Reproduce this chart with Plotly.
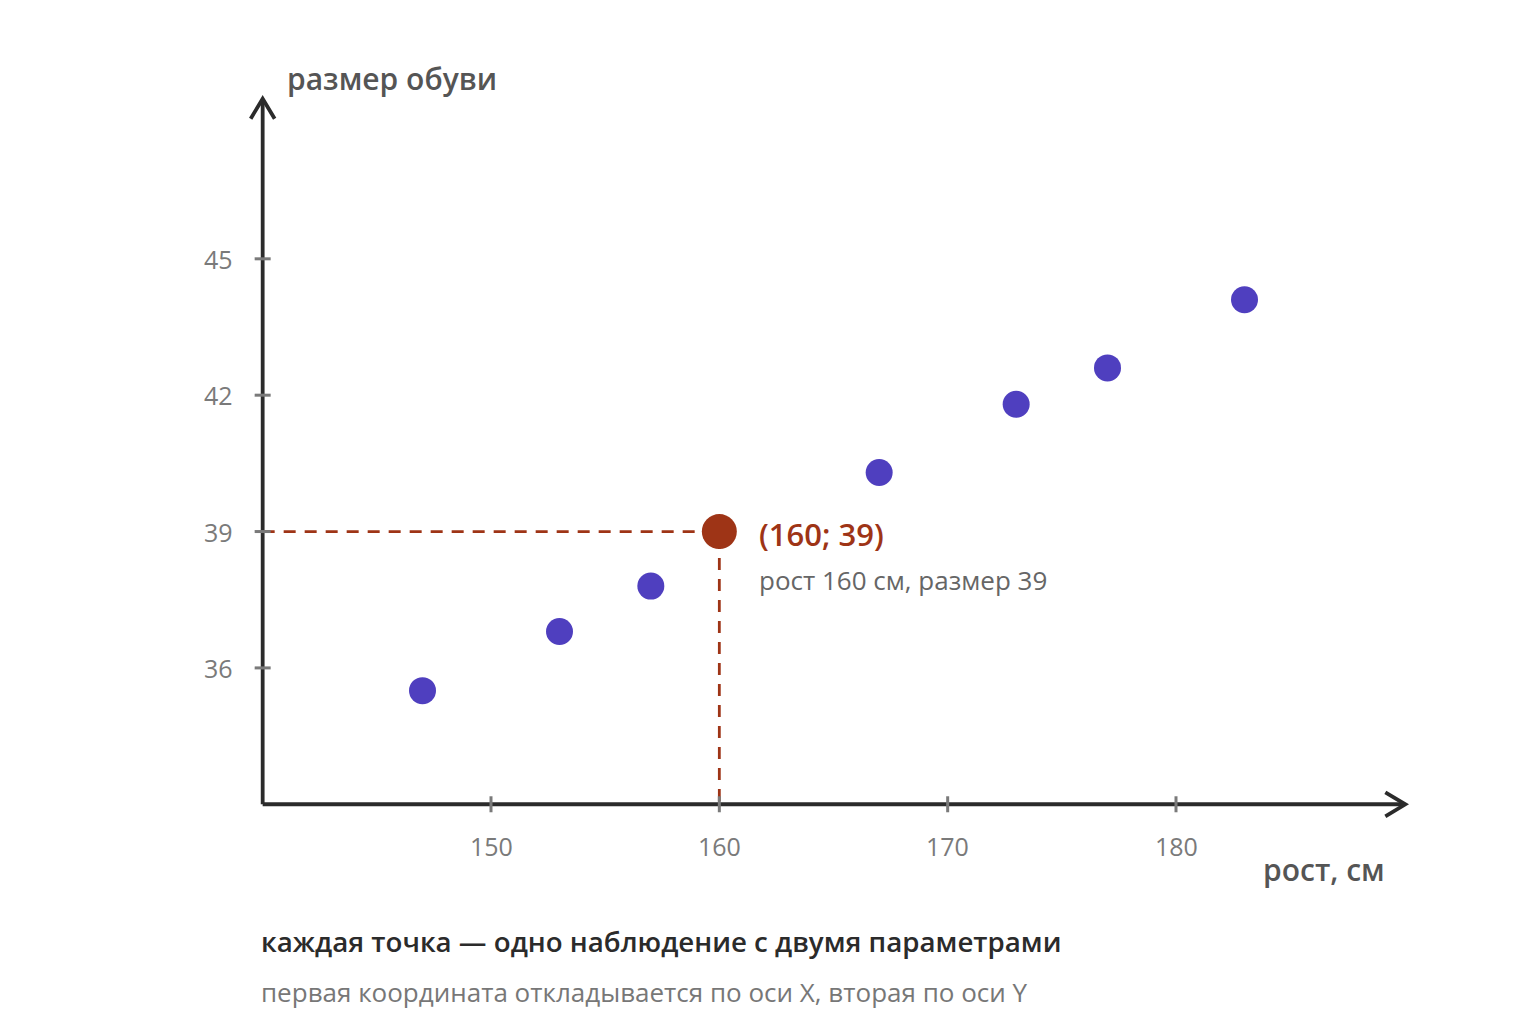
import plotly.graph_objects as go

# --- data ---
heights = [147, 153, 157, 167, 173, 177, 183]
shoe_sizes = [35.5, 36.8, 37.8, 40.3, 41.8, 42.6, 44.1]
hl_height = 160
hl_size = 39

x_ticks = [150, 160, 170, 180]
y_ticks = [36, 39, 42, 45]
x_axis = [140, 190]      # where the drawn x axis starts / ends (arrow tip)
y_axis = [33, 48.5]      # where the drawn y axis starts / ends (arrow tip)
x_range = [138, 192]     # a bit of room so arrow heads are not clipped
y_range = [32.5, 49]

font = "Open Sans"
axis_color = "#2b2b2b"
tick_color = "#7a7a7a"
dot_color = "#4f3fbf"
hl_color = "#9e3416"

fig = go.Figure()

fig.add_trace(
    go.Scatter(
        x=heights,
        y=shoe_sizes,
        mode="markers",
        marker=dict(size=27, color=dot_color),
        hoverinfo="skip",
    )
)

# guide lines to the highlighted point
fig.add_trace(
    go.Scatter(
        x=[x_axis[0], hl_height, hl_height],
        y=[hl_size, hl_size, y_axis[0]],
        mode="lines",
        line=dict(color=hl_color, width=2.8, dash="12px,9px"),
        hoverinfo="skip",
    )
)
fig.add_trace(
    go.Scatter(
        x=[hl_height],
        y=[hl_size],
        mode="markers",
        marker=dict(size=35, color=hl_color),
        hoverinfo="skip",
    )
)

shapes = []
# axes
shapes.append(dict(type="line", xref="x", yref="y", x0=x_axis[0], x1=x_axis[1],
                   y0=y_axis[0], y1=y_axis[0], line=dict(color=axis_color, width=3.8)))
shapes.append(dict(type="line", xref="x", yref="y", x0=x_axis[0], x1=x_axis[0],
                   y0=y_axis[0], y1=y_axis[1], line=dict(color=axis_color, width=3.8)))
# arrow heads
shapes.append(dict(type="path", xref="x", yref="y", xsizemode="pixel", ysizemode="pixel",
                   xanchor=x_axis[1], yanchor=y_axis[0],
                   path="M -19 12 L 1 0 L -19 -12", line=dict(color=axis_color, width=3.8)))
shapes.append(dict(type="path", xref="x", yref="y", xsizemode="pixel", ysizemode="pixel",
                   xanchor=x_axis[0], yanchor=y_axis[1],
                   path="M -12 -19 L 0 1 L 12 -19", line=dict(color=axis_color, width=3.8)))
# ticks crossing the axes
for t in x_ticks:
    shapes.append(dict(type="line", xref="x", yref="y", ysizemode="pixel", yanchor=y_axis[0],
                       x0=t, x1=t, y0=-8, y1=8, line=dict(color=tick_color, width=3)))
for t in y_ticks:
    shapes.append(dict(type="line", xref="x", yref="y", xsizemode="pixel", xanchor=x_axis[0],
                       y0=t, y1=t, x0=-8, x1=8, line=dict(color=tick_color, width=3)))

annotations = []
for t in x_ticks:
    annotations.append(dict(x=t, y=y_axis[0], xref="x", yref="y", text=str(t), showarrow=False,
                            yshift=-42, font=dict(family=font, size=25, color=tick_color)))
for t in y_ticks:
    annotations.append(dict(x=x_axis[0], y=t, xref="x", yref="y", text=str(t), showarrow=False,
                            xanchor="right", xshift=-28,
                            font=dict(family=font, size=25, color=tick_color)))

annotations += [
    dict(x=x_axis[0], y=y_axis[1], xref="x", yref="y", text="размер обуви", showarrow=False,
         xanchor="left", xshift=22, yshift=21,
         font=dict(family=font, size=30, color="#555555", weight=600)),
    dict(x=x_axis[1], y=y_axis[0], xref="x", yref="y", text="рост, см", showarrow=False,
         xanchor="right", xshift=-17, yshift=-65,
         font=dict(family=font, size=30, color="#555555", weight=600)),
    dict(x=hl_height, y=hl_size, xref="x", yref="y", text=f"({hl_height}; {hl_size})",
         showarrow=False, xanchor="left", xshift=38, yshift=-2,
         font=dict(family=font, size=31, color=hl_color, weight=600)),
    dict(x=hl_height, y=hl_size, xref="x", yref="y",
         text=f"рост {hl_height} см, размер {hl_size}",
         showarrow=False, xanchor="left", xshift=38, yshift=-48,
         font=dict(family=font, size=26, color="#666666")),
    dict(x=x_axis[0], y=y_axis[0], xref="x", yref="y",
         text="каждая точка — одно наблюдение с двумя параметрами",
         showarrow=False, xanchor="left", xshift=-4, yshift=-137,
         font=dict(family=font, size=27.7, color="#2b2b2b", weight=600)),
    dict(x=x_axis[0], y=y_axis[0], xref="x", yref="y",
         text="первая координата откладывается по оси X, вторая по оси Y",
         showarrow=False, xanchor="left", xshift=-4, yshift=-188,
         font=dict(family=font, size=26, color="#777777")),
]

fig.update_layout(
    width=1506,
    height=1017,
    margin=dict(l=209, r=64, t=69, b=198),
    paper_bgcolor="white",
    plot_bgcolor="white",
    showlegend=False,
    xaxis=dict(range=x_range, visible=False, fixedrange=True),
    yaxis=dict(range=y_range, visible=False, fixedrange=True),
    shapes=shapes,
    annotations=annotations,
)

fig.write_html("out.html")
